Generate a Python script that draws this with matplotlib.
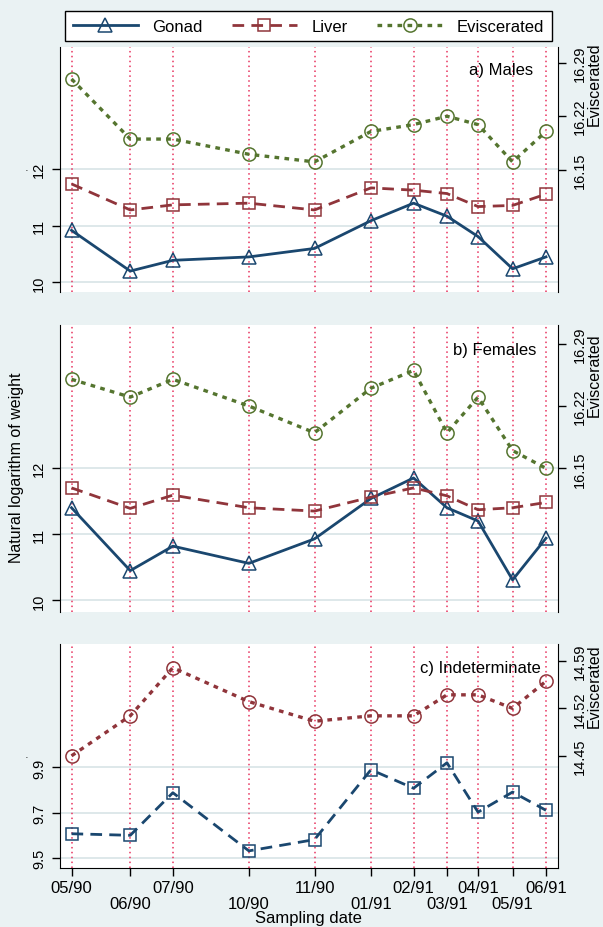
import numpy as np
import matplotlib.pyplot as plt

plt.rcParams['font.family'] = ['Liberation Sans', 'DejaVu Sans']

# sampling dates (day of month estimated from the spacing on the axis)
dates = np.array(['1990-05-01', '1990-06-21', '1990-07-28', '1990-10-02',
                  '1990-11-28', '1991-01-16', '1991-02-22', '1991-03-23',
                  '1991-04-19', '1991-05-19', '1991-06-17'], dtype='datetime64[D]')
date_labels = ['05/90', '06/90', '07/90', '10/90', '11/90', '01/91',
               '02/91', '03/91', '04/91', '05/91', '06/91']

males_gonad = [10.92, 10.20, 10.39, 10.45, 10.60, 11.09, 11.40, 11.17, 10.81, 10.24, 10.45]
males_liver = [11.74, 11.28, 11.37, 11.40, 11.28, 11.67, 11.63, 11.57, 11.34, 11.36, 11.56]
males_evisc = [16.269, 16.190, 16.190, 16.170, 16.160, 16.200, 16.209, 16.220, 16.209, 16.160, 16.200]

females_gonad = [11.40, 10.45, 10.82, 10.56, 10.93, 11.54, 11.85, 11.40, 11.20, 10.31, 10.94]
females_liver = [11.70, 11.39, 11.59, 11.40, 11.35, 11.56, 11.70, 11.58, 11.37, 11.40, 11.48]
females_evisc = [16.250, 16.230, 16.250, 16.220, 16.190, 16.240, 16.260, 16.190, 16.230, 16.170, 16.150]

indet_gonad = [9.606, 9.599, 9.788, 9.530, 9.580, 9.890, 9.808, 9.921, 9.702, 9.791, 9.710]
indet_evisc = [14.450, 14.509, 14.580, 14.530, 14.501, 14.509, 14.509, 14.540, 14.540, 14.520, 14.560]

sex_left_ticks = ['10', '11', '12']
sex_right_ticks = ['16.15', '16.22', '16.29']
indet_left_ticks = ['9.5', '9.7', '9.9']
indet_right_ticks = ['14.45', '14.52', '14.59']

NAVY = '#1a476f'
MAROON = '#90353b'
GREEN = '#55752f'
BG = '#eaf2f3'
GRID = '#dbe6e8'
VLINE = '#e8335f'

W, H = 603, 928
fig = plt.figure(figsize=(W / 100, H / 100), dpi=100)
fig.patch.set_facecolor(BG)


def px(x, y):
    """pixel position (from top left) -> figure fraction"""
    return x / W, 1 - y / H


def rect(left, top, right, bottom):
    return [left / W, 1 - bottom / H, (right - left) / W, (bottom - top) / H]


def style_line(kind, color):
    if kind == 'gonad':
        return dict(color=color, lw=2.0, ls='-', marker='^', ms=10.5, mfc='none', mew=1.1)
    if kind == 'liver':
        return dict(color=color, lw=2.0, ls=(0, (4.2, 2.6)), marker='s', ms=8.5, mfc='none', mew=1.1)
    return dict(color=color, lw=2.4, ls=(0, (1.4, 1.6)), marker='o', ms=9.5, mfc='none', mew=1.1)


def draw_panel(box, left_ticks, left_lim, right_ticks, right_lim, left_series, evisc, evisc_style,
               last=False):
    ax = fig.add_axes(box)
    ax.set_facecolor('white')
    handles = []
    for values, kind, color in left_series:
        h, = ax.plot(dates, values, zorder=3, **style_line(kind, color))
        handles.append(h)
    ax.vlines(dates, 0, 1, transform=ax.get_xaxis_transform(), color=VLINE, lw=1.1,
              linestyles=[(0, (1, 2.2))], zorder=2)
    ax.set_xlim(np.datetime64('1990-04-21'), np.datetime64('1991-06-27'))
    ax.set_ylim(left_lim)
    ax.set_yticks([float(t) for t in left_ticks], labels=left_ticks, rotation=90, va='center')
    ax.yaxis.grid(True, color=GRID, lw=1.3, zorder=0)
    ax.set_axisbelow(True)
    ax.tick_params(axis='y', length=6, width=1, pad=4, labelsize=10.5)
    ax.spines['top'].set_visible(False)
    ax.spines['right'].set_visible(False)
    if last:
        # staggered date labels: first row on major ticks, second row on minor ticks
        ax.set_xticks(dates[::2], labels=date_labels[::2])
        ax.set_xticks(dates[1::2], labels=date_labels[1::2], minor=True)
        ax.tick_params(axis='x', which='major', length=6, width=1, pad=3, labelsize=12)
        ax.tick_params(axis='x', which='minor', length=6, width=1, pad=14, labelsize=12)
    else:
        ax.spines['bottom'].set_visible(False)
        ax.tick_params(axis='x', which='both', bottom=False, labelbottom=False)

    ax2 = ax.twinx()
    e_kind, e_color = evisc_style
    h, = ax2.plot(dates, evisc, zorder=3, **style_line(e_kind, e_color))
    handles.append(h)
    ax2.set_ylim(right_lim)
    ax2.set_yticks([float(t) for t in right_ticks], labels=right_ticks, rotation=90, va='center')
    ax2.tick_params(axis='y', length=6, width=1, pad=5, labelsize=10.5)
    for side in ['top', 'bottom', 'left']:
        ax2.spines[side].set_visible(False)
    return ax, handles


ax_a, handles = draw_panel(rect(60, 48, 557.5, 293), sex_left_ticks, (9.83, 14.16),
                           sex_right_ticks, (15.989, 16.311),
                           [(males_gonad, 'gonad', NAVY), (males_liver, 'liver', MAROON)],
                           males_evisc, ('evisc', GREEN))
ax_b, _ = draw_panel(rect(60, 326, 557.5, 612.7), sex_left_ticks, (9.83, 14.16),
                     sex_right_ticks, (15.989, 16.311),
                     [(females_gonad, 'gonad', NAVY), (females_liver, 'liver', MAROON)],
                     females_evisc, ('evisc', GREEN))
ax_c, _ = draw_panel(rect(60, 645, 557.5, 869), indet_left_ticks, (9.454, 10.448),
                     indet_right_ticks, (14.2845, 14.615),
                     [(indet_gonad, 'liver', NAVY)],
                     indet_evisc, ('evisc', MAROON), last=True)

# panel captions
fig.text(*px(533, 71), 'a) Males', ha='right', va='center', fontsize=12)
fig.text(*px(536, 351), 'b) Females', ha='right', va='center', fontsize=12)
fig.text(*px(541, 668), 'c) Indeterminate', ha='right', va='center', fontsize=12)

# right axis titles
for y in [84, 375, 686]:
    fig.text(*px(594, y), 'Eviscerated', rotation=90, ha='center', va='center', fontsize=11.5)

# left axis titles
fig.text(*px(17, 468), 'Natural logarithm of weight', rotation=90, ha='center', va='center',
         fontsize=11.5)
for y in [171, 758]:
    fig.text(*px(27, y), '·', ha='center', va='center', fontsize=8)

fig.text(*px(308.5, 919), 'Sampling date', ha='center', va='center', fontsize=12)

leg = fig.legend(handles, ['Gonad', 'Liver', 'Eviscerated'], ncol=3, loc='center',
                 bbox_to_anchor=(65 / W, 1 - 42 / H, 487 / W, 30 / H), mode='expand',
                 fontsize=12, handlelength=3.9, handletextpad=0.9, borderpad=0.45,
                 frameon=True, fancybox=False, framealpha=1, edgecolor='black',
                 facecolor='white', borderaxespad=0)
leg.get_frame().set_linewidth(1.0)

fig.savefig('out.png', dpi=100, facecolor=fig.get_facecolor())
